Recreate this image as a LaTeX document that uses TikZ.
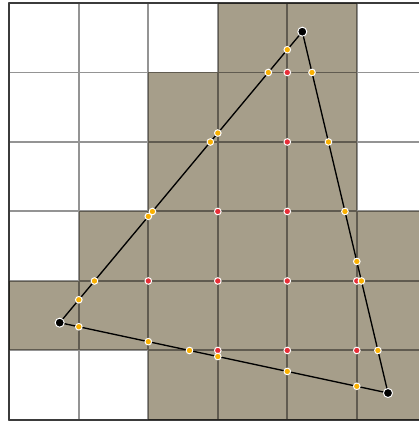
\documentclass[tikz,border=0pt]{standalone}
\usepackage{tikz}
\usetikzlibrary{calc}
\definecolor{cellshade}{RGB}{166,158,138}
\definecolor{hitdot}{RGB}{250,176,0}
\definecolor{cornerdot}{RGB}{232,45,55}

\begin{document}
\begin{tikzpicture}[x=1cm, y=-1cm,
                gridline/.style={draw=black, opacity=0.42, line width=0.8pt},
                border/.style={draw=black, opacity=0.6, line width=0.8pt},
                cell/.style={fill=cellshade},
                edge/.style={draw=black, line width=0.55pt},
                dot/.style={circle, draw=white, line width=0.4pt, inner sep=0pt,
                        minimum size=0.95mm},
                hit/.style={dot, fill=hitdot},
                corner/.style={dot, fill=cornerdot},
                vertex/.style={dot, fill=black, minimum size=1.3mm},
            ]

            \useasboundingbox (-0.134,-0.043) rectangle (5.895,6.015);
            \clip (-0.134,-0.043) rectangle (5.895,6.015);

            % cells touched by the triangle
            \foreach \c/\r in {3/0,4/0, 2/1,3/1,4/1, 2/2,3/2,4/2,
                    1/3,2/3,3/3,4/3,5/3, 0/4,1/4,2/4,3/4,4/4,5/4,
                    2/5,3/5,4/5,5/5}
                \fill[cell] (\c,\r) rectangle ++(1,1);

            \draw[gridline] (0,0) grid (6,6);
            \draw[border] (0,0) rectangle (6,6);

            % sample points at cell corners
            \foreach \c/\r in {4/1,4/2,3/3,4/3,2/4,3/4,4/4,5/4,3/5,4/5,5/5}
                \node[corner] (corner\c\r) at (\c,\r) {};

            \coordinate (top) at (4.216,0.413);
            \coordinate (left) at (0.725,4.600);
            \coordinate (right) at (5.449,5.612);

            \draw[edge] (top) -- (left) -- (right) -- cycle;

            % edge / grid line crossings
            \foreach \i in {1,...,4} {
                \node[hit] (leftx\i) at (intersection of top--left and \i,0--\i,6) {};
                \node[hit] (lefty\i) at (intersection of top--left and 0,\i--6,\i) {};
            }
            \foreach \i in {1,...,5}
                \node[hit] (righty\i) at (intersection of top--right and 0,\i--6,\i) {};
            \node[hit] (rightx5) at (intersection of top--right and 5,0--5,6) {};
            \foreach \i in {1,...,5}
                \node[hit] (bottomx\i) at (intersection of left--right and \i,0--\i,6) {};
            \node[hit] (bottomy5) at (intersection of left--right and 0,5--6,5) {};

            \node[vertex] (vtop) at (top) {};
            \node[vertex] (vleft) at (left) {};
            \node[vertex] (vright) at (right) {};
        \end{tikzpicture}
\end{document}
